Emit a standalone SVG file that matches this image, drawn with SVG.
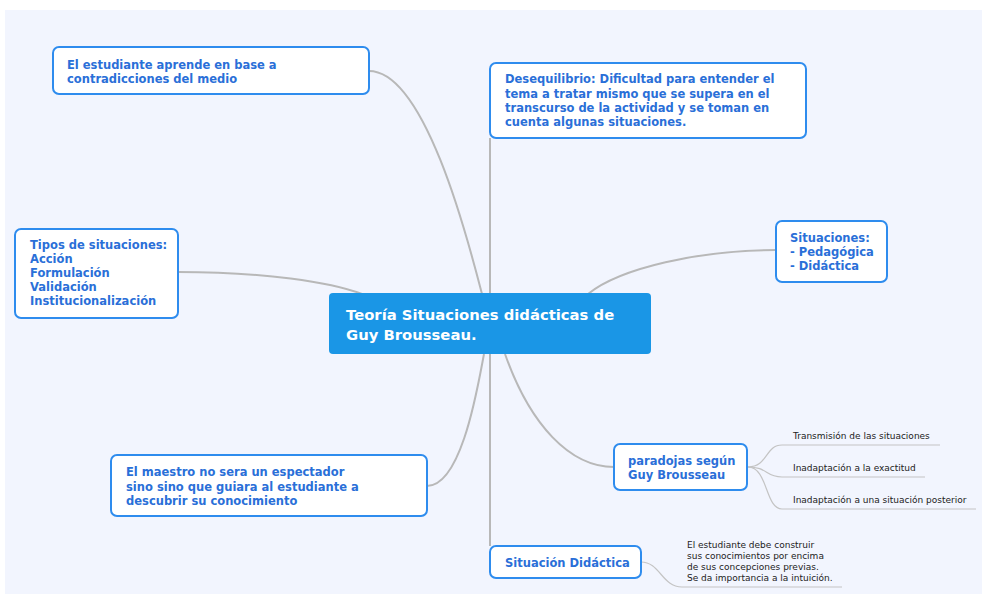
<svg xmlns="http://www.w3.org/2000/svg" width="982" height="594" viewBox="0 0 982 594">
<style>
.bg{fill:#f2f5fe}
.box{fill:#ffffff;stroke:#2e8cee;stroke-width:2}
.t{font-family:"DejaVu Sans",Verdana,sans-serif;font-weight:bold;font-size:11.5px;fill:#2a6fd8}
.c{fill:#1a96e6}
.ct{font-family:"DejaVu Sans",Verdana,sans-serif;font-weight:bold;font-size:14.8px;fill:#ffffff}
.s{font-family:"DejaVu Sans",Verdana,sans-serif;font-size:9px;fill:#222222}
.ln{fill:none;stroke:#b8b8b8;stroke-width:2}
.ln2{fill:none;stroke:#c4c4c4;stroke-width:1.2}
</style>
<rect x="0" y="0" width="982" height="594" fill="#ffffff"/>
<rect class="bg" x="5" y="10" width="977" height="584"/>
<g id="connectors">
<path class="ln" d="M369,71 C425,71 468,240 482,294"/>
<path class="ln" d="M490,138 L490,294"/>
<path class="ln" d="M178,272 C265,272 330,282 362,294"/>
<path class="ln" d="M776,250 C700,250 620,268 588,294"/>
<path class="ln" d="M427,486 C462,486 478,385 484,354"/>
<path class="ln" d="M614,467 C570,467 530,425 505,354"/>
<path class="ln" d="M490,354 L490,546"/>
<path class="ln2" d="M748,467 C768,467 765,445 782,445 L940,445"/>
<path class="ln2" d="M748,467 C768,467 765,477 782,477 L925,477"/>
<path class="ln2" d="M748,467 C768,467 765,509 782,509 L976,509"/>
<path class="ln2" d="M641,562 C660,562 662,587 682,587 L842,587"/>
</g>
<g id="central">
<rect class="c" x="329" y="293" width="322" height="61" rx="4"/>
<text class="ct" x="346" y="320">Teoría Situaciones didácticas de</text>
<text class="ct" x="346" y="340">Guy Brousseau.</text>
</g>
<g id="n1">
<rect class="box" x="53" y="47" width="316" height="47" rx="6"/>
<text class="t" x="67" y="69">El estudiante aprende en base a</text>
<text class="t" x="67" y="83">contradicciones del medio</text>
</g>
<g id="n2">
<rect class="box" x="490" y="63" width="316" height="75" rx="6"/>
<text class="t" x="505" y="83">Desequilibrio: Dificultad para entender el</text>
<text class="t" x="505" y="98">tema a tratar mismo que se supera en el</text>
<text class="t" x="505" y="112">transcurso de la actividad y se toman en</text>
<text class="t" x="505" y="126">cuenta algunas situaciones.</text>
</g>
<g id="n3">
<rect class="box" x="15" y="229" width="163" height="89" rx="6"/>
<text class="t" x="30" y="249">Tipos de situaciones:</text>
<text class="t" x="30" y="263">Acción</text>
<text class="t" x="30" y="277">Formulación</text>
<text class="t" x="30" y="291">Validación</text>
<text class="t" x="30" y="305">Institucionalización</text>
</g>
<g id="n4">
<rect class="box" x="776" y="221" width="111" height="61" rx="6"/>
<text class="t" x="790" y="242">Situaciones:</text>
<text class="t" x="790" y="256">- Pedagógica</text>
<text class="t" x="790" y="270">- Didáctica</text>
</g>
<g id="n5">
<rect class="box" x="111" y="455" width="316" height="61" rx="6"/>
<text class="t" x="126" y="476">El maestro no sera un espectador</text>
<text class="t" x="126" y="491">sino sino que guiara al estudiante a</text>
<text class="t" x="126" y="505">descubrir su conocimiento</text>
</g>
<g id="n6">
<rect class="box" x="614" y="444" width="133" height="46" rx="6"/>
<text class="t" x="628" y="465">paradojas según</text>
<text class="t" x="628" y="479">Guy Brousseau</text>
</g>
<g id="n6a"><text class="s" x="793" y="439">Transmisión de las situaciones</text></g>
<g id="n6b"><text class="s" x="793" y="471">Inadaptación a la exactitud</text></g>
<g id="n6c"><text class="s" x="793" y="503">Inadaptación a una situación posterior</text></g>
<g id="n7">
<rect class="box" x="490" y="546" width="151" height="32" rx="6"/>
<text class="t" x="505" y="567">Situación Didáctica</text>
</g>
<g id="n7a">
<text class="s" x="687" y="548">El estudiante debe construir</text>
<text class="s" x="687" y="559">sus conocimientos por encima</text>
<text class="s" x="687" y="570">de sus concepciones previas.</text>
<text class="s" x="687" y="581">Se da importancia a la intuición.</text>
</g>
</svg>
